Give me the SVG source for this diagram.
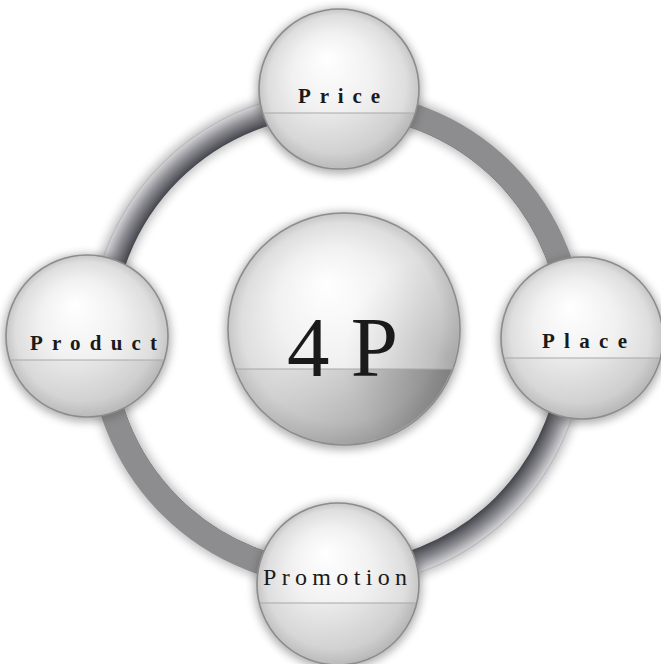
<svg xmlns="http://www.w3.org/2000/svg" width="661" height="664" viewBox="0 0 661 664">
<style>
.sph{fill:url(#sphG);stroke:#8c8c8c;stroke-width:1.6}
.low{fill:url(#lowG)}
.shd{fill:#555;opacity:.45;filter:url(#blur)}
.div{stroke:#a8a8a8;stroke-width:1}
.lbl{font-family:"Liberation Serif","DejaVu Serif",serif;font-weight:bold;font-size:21px;fill:#1a1a1a}
.lblr{font-family:"Liberation Serif","DejaVu Serif",serif;font-size:24px;fill:#1a1a1a}
</style>
<defs>
<filter id="blur" x="-30%" y="-30%" width="160%" height="160%"><feGaussianBlur stdDeviation="4"/></filter>
<filter id="blur2" x="-20%" y="-20%" width="140%" height="140%"><feGaussianBlur stdDeviation="5"/></filter>
<radialGradient id="sphG" cx="0.5" cy="0.5" r="0.5" fx="0.42" fy="0.3">
<stop offset="0" stop-color="#ffffff"/>
<stop offset="0.5" stop-color="#f1f1f1"/>
<stop offset="0.86" stop-color="#dedede"/>
<stop offset="1" stop-color="#c6c6c6"/>
</radialGradient>
<linearGradient id="lowG" x1="0" y1="0" x2="1" y2="1">
<stop offset="0" stop-color="#000" stop-opacity="0"/>
<stop offset="0.5" stop-color="#000" stop-opacity="0.03"/>
<stop offset="1" stop-color="#000" stop-opacity="0.1"/>
</linearGradient>
<linearGradient id="lowC" x1="0" y1="0" x2="1" y2="0.5">
<stop offset="0" stop-color="#000" stop-opacity="0"/>
<stop offset="0.45" stop-color="#000" stop-opacity="0.05"/>
<stop offset="1" stop-color="#000" stop-opacity="0.26"/>
</linearGradient>
<radialGradient id="sideC" cx="0.95" cy="0.62" r="0.45">
<stop offset="0" stop-color="#000" stop-opacity="0.16"/>
<stop offset="1" stop-color="#000" stop-opacity="0"/>
</radialGradient>
<radialGradient id="ringG" gradientUnits="userSpaceOnUse" cx="337" cy="339" r="249">
<stop offset="0.9" stop-color="#45454d"/>
<stop offset="0.95" stop-color="#8c8c92"/>
<stop offset="0.99" stop-color="#cfcfd3"/>
<stop offset="1" stop-color="#9a9a9e"/>
</radialGradient>
<clipPath id="cPrice"><rect x="250" y="113" width="180" height="70"/></clipPath>
<clipPath id="cProduct"><rect x="0" y="360" width="180" height="70"/></clipPath>
<clipPath id="cPlace"><rect x="490" y="358" width="180" height="70"/></clipPath>
<clipPath id="cPromo"><rect x="250" y="603" width="180" height="70"/></clipPath>
<clipPath id="cCenter"><rect x="220" y="369" width="250" height="100"/></clipPath>
</defs>
<rect width="661" height="664" fill="#fff"/>
<g id="connectors">
<circle cx="337" cy="339" r="236" fill="none" stroke="#444" stroke-width="30" opacity="0.35" filter="url(#blur2)"/>
<circle cx="337" cy="339" r="236" fill="none" stroke="url(#ringG)" stroke-width="24"/>
<path d="M337,103 A236,236 0 0 1 573,339" fill="none" stroke="#8d8d8f" stroke-width="24"/>
<path d="M337,575 A236,236 0 0 1 101,339" fill="none" stroke="#8d8d8f" stroke-width="24"/>
</g>
<g id="center">
<circle class="shd" cx="344" cy="331" r="119"/>
<circle class="sph" cx="344" cy="329" r="116"/>
<circle fill="url(#sideC)" cx="344" cy="329" r="115"/>
<circle fill="url(#lowC)" cx="344" cy="329" r="115" clip-path="url(#cCenter)"/>
<line class="div" x1="236" y1="369" x2="452" y2="369" stroke="#e2e2e2"/>
<text x="287" y="376" font-family="Liberation Serif, DejaVu Serif, serif" font-size="85" fill="#1a1a1a" textLength="111" lengthAdjust="spacing">4 P</text>
</g>
<g id="price">
<circle class="shd" cx="339" cy="91" r="83"/>
<circle class="sph" cx="339" cy="89" r="80"/>
<circle class="low" cx="339" cy="89" r="79" clip-path="url(#cPrice)"/>
<line class="div" x1="264" y1="113" x2="414" y2="113"/>
<text class="lbl" x="298" y="103" textLength="82" lengthAdjust="spacing">Price</text>
</g>
<g id="product">
<circle class="shd" cx="87" cy="338" r="84"/>
<circle class="sph" cx="87" cy="336" r="81"/>
<circle class="low" cx="87" cy="336" r="80" clip-path="url(#cProduct)"/>
<line class="div" x1="10" y1="360" x2="164" y2="360" stroke="#c8c8c8"/>
<text class="lbl" x="30" y="350" textLength="127" lengthAdjust="spacing">Product</text>
</g>
<g id="place">
<circle class="shd" cx="582" cy="340" r="84"/>
<circle class="sph" cx="582" cy="338" r="81"/>
<circle class="low" cx="582" cy="338" r="80" clip-path="url(#cPlace)"/>
<line class="div" x1="504" y1="358" x2="660" y2="358" stroke="#e0e0e0"/>
<text class="lbl" x="542" y="348" textLength="85" lengthAdjust="spacing">Place</text>
</g>
<g id="promotion">
<circle class="shd" cx="338" cy="586" r="84"/>
<circle class="sph" cx="338" cy="584" r="81"/>
<circle class="low" cx="338" cy="584" r="80" clip-path="url(#cPromo)"/>
<line class="div" x1="260" y1="603" x2="416" y2="603" stroke="#d8d8d8"/>
<text class="lblr" x="263" y="585" textLength="144" lengthAdjust="spacing">Promotion</text>
</g>
</svg>
